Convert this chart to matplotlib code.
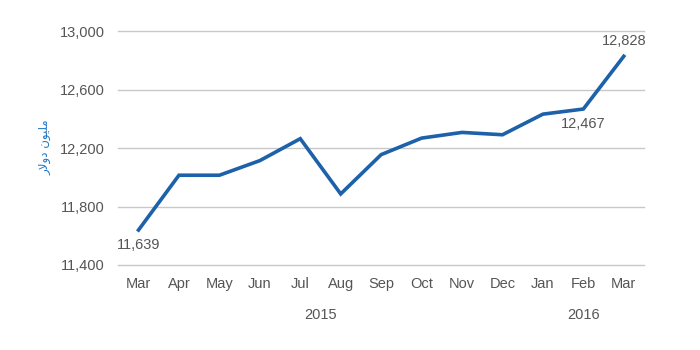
import matplotlib
matplotlib.use("Agg")
import matplotlib.pyplot as plt
from matplotlib.ticker import FuncFormatter

months = ["Mar", "Apr", "May", "Jun", "Jul", "Aug", "Sep", "Oct", "Nov", "Dec", "Jan", "Feb", "Mar"]
values = [11639, 12014, 12014, 12114, 12264, 11886, 12155, 12268, 12307, 12291, 12432, 12467, 12828]
years = ["2015", "2016"]
year_pos = [4.5, 11]
y_ticks = [11400, 11800, 12200, 12600, 13000]
labelled = {0: "below", 11: "below", 12: "above"}
# "million dollars", written in presentation forms in visual order so it joins up
y_label = "\uFEAD\uFEFB\uFEED\uFEA9 \uFEE5\uFEEE\uFEF4\uFEE0\uFEE3"

plt.rcParams["font.family"] = ["Liberation Sans", "DejaVu Sans"]
text_color = "#555555"
line_color = "#1c61a9"

fig = plt.figure(figsize=(7, 3.5), dpi=100)
ax = fig.add_axes([0.169, 0.243, 0.751, 0.668])

x = list(range(len(months)))
ax.plot(x, values, color=line_color, lw=2.6, solid_joinstyle="miter", zorder=3)

ax.set_xlim(-0.5, len(months) - 0.5)
ax.set_ylim(y_ticks[0], y_ticks[-1])
ax.set_yticks(y_ticks)
ax.yaxis.set_major_formatter(FuncFormatter(lambda v, _: f"{int(v):,}"))
ax.grid(axis="y", color="#c8c8c8", lw=1)
for gl in ax.get_ygridlines():
    gl.set_clip_on(False)
ax.set_axisbelow(True)
for side in ax.spines.values():
    side.set_visible(False)

ax.set_xticks(x)
ax.set_xticklabels(months)
ax.tick_params(axis="x", length=0, pad=9, labelsize=10.5, labelcolor=text_color)
ax.tick_params(axis="y", length=0, pad=10, labelsize=10.5, labelcolor=text_color)

for pos, yr in zip(year_pos, years):
    ax.annotate(yr, xy=(pos, 0), xycoords=("data", "axes fraction"), xytext=(0, -36),
                textcoords="offset points", ha="center", va="center", fontsize=10.5, color=text_color)

for i, where in labelled.items():
    dy = -11 if where == "below" else 11
    ax.annotate(f"{values[i]:,}", xy=(i, values[i]), xytext=(0, dy), textcoords="offset points",
                ha="center", va="center", fontsize=10.5, color=text_color)

fig.text(0.064, 0.58, y_label, rotation=90, ha="center", va="center", fontsize=8.5,
         color="#1f78c8", family="DejaVu Sans")

fig.savefig("out.png", dpi=100)
